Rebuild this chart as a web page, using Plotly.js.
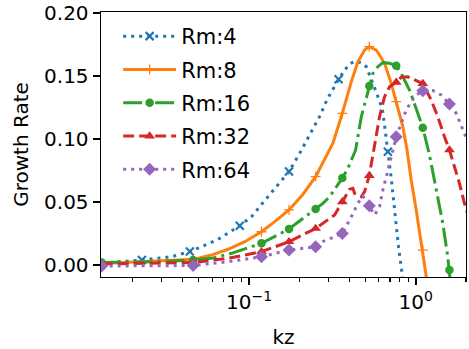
<!DOCTYPE html>
<html><head><meta charset="utf-8">
<script src="https://cdn.plot.ly/plotly-3.0.1.min.js"></script>
<style>html,body{margin:0;padding:0;background:#fff}#chart{width:469px;height:349px}</style>
</head><body><div id="chart"></div>
<script>
// ---- data ----
const seriesNames = ['Rm:4', 'Rm:8', 'Rm:16', 'Rm:32', 'Rm:64'];

const rm4_kz = [0.01306,0.02278,0.0343,0.04414,0.0519,0.0652,0.08796,0.1034,0.1225,0.1563,0.1736,0.2012,0.2255,0.2651,0.2930,0.3444,0.3970,0.4354,0.4776,0.5047,0.5528,0.6062,0.6344,0.6542,0.6797,0.7121,0.7454,0.7876,0.8245,0.8600];
const rm4_g  = [0.0016,0.0040,0.0066,0.0107,0.0145,0.0204,0.0312,0.0383,0.0502,0.0668,0.0742,0.0887,0.1006,0.1180,0.1310,0.1474,0.1593,0.1619,0.1601,0.1574,0.1440,0.1302,0.1214,0.1087,0.0899,0.0690,0.0423,0.0145,-0.0053,-0.0350];
const rm4_marks = [1,3,6,10,15,24];

const rm8_kz = [0.01306,0.02988,0.0462,0.05953,0.07484,0.09425,0.1187,0.1425,0.1736,0.2100,0.2507,0.3184,0.3625,0.4103,0.4494,0.4930,0.5260,0.5794,0.6497,0.7121,0.7630,0.8360,0.8858,0.9386,1.0055,1.1014,1.1640,1.2200];
const rm8_g  = [0.0012,0.0032,0.0045,0.0079,0.0125,0.0185,0.0264,0.0344,0.0437,0.0560,0.0701,0.0966,0.1204,0.1455,0.1613,0.1706,0.1733,0.1706,0.1601,0.1442,0.1296,0.1098,0.0913,0.0675,0.0437,0.0119,-0.0079,-0.0300];
const rm8_marks = [0,2,6,8,10,12,16,20,25];

const rm16_kz = [0.01306,0.02988,0.0462,0.05953,0.07842,0.1187,0.1736,0.2507,0.2773,0.3042,0.3337,0.3625,0.3916,0.4194,0.4354,0.4710,0.5260,0.5528,0.5922,0.6344,0.6960,0.7630,0.8177,0.9168,0.9959,1.1014,1.2080,1.3250,1.4515,1.5544,1.5914,1.6600];
const rm16_g  = [0.0020,0.0028,0.0040,0.0053,0.0093,0.0172,0.0286,0.0444,0.0489,0.0542,0.0621,0.0690,0.0767,0.0857,0.0913,0.1177,0.1421,0.1521,0.1574,0.1606,0.1601,0.1582,0.1521,0.1389,0.1256,0.1090,0.0873,0.0609,0.0331,0.0066,-0.0040,-0.0300];
const rm16_marks = [0,2,5,6,7,11,16,21,25,30];

const rm32_kz = [0.01306,0.02988,0.0462,0.07484,0.1187,0.1736,0.2507,0.3259,0.3625,0.4009,0.4194,0.4295,0.4710,0.4930,0.5260,0.5528,0.5794,0.6062,0.6497,0.6960,0.7630,0.8177,0.8957,0.9822,1.1014,1.2365,1.3542,1.4853,1.5914,1.7054,1.8266,1.9568,2.1000];
const rm32_g  = [0.0008,0.0012,0.0020,0.0053,0.0106,0.0185,0.0290,0.0397,0.0502,0.0601,0.0609,0.0569,0.0542,0.0582,0.0710,0.0886,0.1018,0.1177,0.1336,0.1415,0.1450,0.1490,0.1494,0.1470,0.1440,0.1310,0.1177,0.1018,0.0913,0.0780,0.0648,0.0490,0.0360];
const rm32_marks = [0,2,4,5,6,8,14,20,24,28];

const rm64_kz = [0.01306,0.02988,0.0462,0.05953,0.07484,0.1187,0.1736,0.2507,0.2773,0.3337,0.3625,0.4103,0.4494,0.4816,0.5260,0.5660,0.6062,0.6344,0.6648,0.6960,0.7281,0.7630,0.8177,0.8760,0.9386,1.0055,1.1014,1.2642,1.4195,1.5914,1.7459,1.8266,1.9850,2.1000];
const rm64_g  = [-0.0008,-0.0008,-0.0004,0.0013,0.0026,0.0066,0.0119,0.0145,0.0187,0.0230,0.0250,0.0383,0.0490,0.0548,0.0471,0.0397,0.0463,0.0595,0.0698,0.0807,0.0926,0.1018,0.1125,0.1230,0.1296,0.1349,0.1383,0.1385,0.1349,0.1278,0.1204,0.1137,0.1024,0.0950];
const rm64_marks = [0,2,5,6,7,10,14,21,26,29];

const yTickVals = [0, 0.05, 0.10, 0.15, 0.20];
const xTickVals = [0.1, 1];
const xTickText = ['10<sup>\u22121</sup>', '10<sup>0</sup>'];
const xMinorVals = [0.02,0.03,0.04,0.05,0.06,0.07,0.08,0.09,0.2,0.3,0.4,0.5,0.6,0.7,0.8,0.9,2];

// ---- styles ----
const series = [
  {name: seriesNames[0], kz: rm4_kz,  g: rm4_g,  marks: rm4_marks,  color: '#1f77b4', dash: '3px,5px',
   marker: {symbol: 'x-thin', size: 8, line: {width: 2.2, color: '#1f77b4'}}},
  {name: seriesNames[1], kz: rm8_kz,  g: rm8_g,  marks: rm8_marks,  color: '#ff7f0e', dash: 'solid',
   marker: {symbol: 'cross-thin', size: 7, line: {width: 1.3, color: '#ff7f0e'}}},
  {name: seriesNames[2], kz: rm16_kz, g: rm16_g, marks: rm16_marks, color: '#2ca02c', dash: '19px,5px,3px,5px',
   marker: {symbol: 'circle', size: 8.5, line: {width: 0}}},
  {name: seriesNames[3], kz: rm32_kz, g: rm32_g, marks: rm32_marks, color: '#d62728', dash: '11px,5px',
   marker: {symbol: 'triangle-up', size: 9.5, line: {width: 0}}},
  {name: seriesNames[4], kz: rm64_kz, g: rm64_g, marks: rm64_marks, color: '#9467bd', dash: '3px,5px',
   marker: {symbol: 'diamond', size: 10, line: {width: 0}}}
];

const traces = [];
series.forEach(function (s) {
  const mk = Object.assign({color: s.color}, s.marker);
  traces.push({type: 'scatter', mode: 'lines', x: s.kz, y: s.g, showlegend: false, hoverinfo: 'skip',
    line: {color: s.color, width: 3, dash: s.dash}});
  traces.push({type: 'scatter', mode: 'markers', x: s.marks.map(i => s.kz[i]), y: s.marks.map(i => s.g[i]),
    showlegend: false, marker: mk});
  traces.push({type: 'scatter', mode: 'lines+markers', x: [null], y: [null], name: s.name, showlegend: true,
    legendgroup: s.name, line: {color: s.color, width: 3, dash: s.dash}, marker: mk});
});

const font = {family: 'DejaVu Sans', size: 20, color: '#000'};
const legendFont = {family: 'DejaVu Sans', size: 21, color: '#000'};
const layout = {
  width: 469, height: 349,
  margin: {l: 101, r: 3, t: 12, b: 72, pad: 0},
  paper_bgcolor: '#fff', plot_bgcolor: '#fff',
  font: font,
  showlegend: true,
  legend: {x: 0.047, y: 0.985, xanchor: 'left', yanchor: 'top', bgcolor: 'rgba(0,0,0,0)', borderwidth: 0,
    font: legendFont, itemwidth: 53, tracegroupgap: 3},
  xaxis: {type: 'log', range: [-1.888, 0.301], tickmode: 'array', tickvals: xTickVals, ticktext: xTickText,
    ticks: 'outside', ticklen: 7, tickwidth: 1.4, tickcolor: '#000', showline: true, mirror: true,
    linecolor: '#000', linewidth: 1.4, showgrid: false, zeroline: false, automargin: false,
    tickfont: font,
    minor: {tickmode: 'array', tickvals: xMinorVals, ticks: 'outside', ticklen: 4, tickwidth: 1.1, tickcolor: '#000', showgrid: false},
    title: {text: 'kz', font: font, standoff: 18}},
  yaxis: {range: [-0.0095, 0.2008], tickmode: 'array', tickvals: yTickVals, tickformat: '.2f',
    ticks: 'outside', ticklen: 7, tickwidth: 1.4, tickcolor: '#000', showline: true, mirror: true,
    linecolor: '#000', linewidth: 1.4, showgrid: false, zeroline: false, automargin: false,
    tickfont: font,
    title: {text: 'Growth Rate', font: font, standoff: 10}}
};

Plotly.newPlot('chart', traces, layout, {staticPlot: true, displayModeBar: false});
</script>
</body></html>
